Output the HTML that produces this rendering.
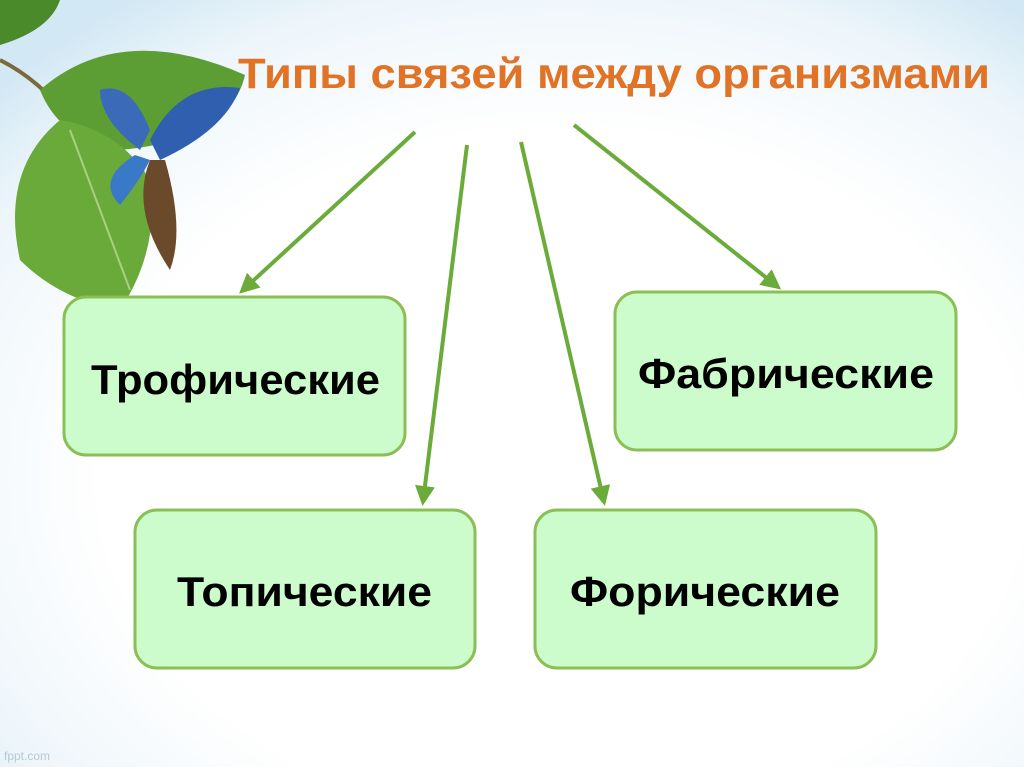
<!DOCTYPE html>
<html><head><meta charset="utf-8"><style>
body{margin:0;width:1024px;height:767px;overflow:hidden;background:#fff}
</style></head><body>
<svg width="1024" height="767" viewBox="0 0 1024 767" xmlns="http://www.w3.org/2000/svg">
<defs>
<radialGradient id="bg" cx="0.55" cy="0.62" r="0.75">
<stop offset="0.6" stop-color="#ffffff"/><stop offset="0.85" stop-color="#eef6fb"/><stop offset="1" stop-color="#d2e8f4"/>
</radialGradient>
<marker id="ah" markerWidth="6" markerHeight="6" refX="4" refY="3" orient="auto" markerUnits="strokeWidth">
<path d="M0,0.5 L5,3 L0,5.5 Z" fill="#6aab3a"/></marker>
</defs>
<rect width="1024" height="767" fill="url(#bg)"/>
<path d="M0,60 Q40,80 70,120" stroke="#7a6a3a" stroke-width="4" fill="none"/>
<path d="M0,0 L60,0 Q50,30 0,45 Z" fill="#4a8a2a"/>
<path d="M40,90 Q120,20 245,75 Q230,140 120,150 Q60,140 40,90 Z" fill="#5c9e33"/>
<path d="M60,120 Q0,170 20,260 Q60,300 120,310 Q160,250 150,180 Q120,130 60,120 Z" fill="#6aaa3a"/>
<path d="M70,130 L130,290" stroke="#a8d080" stroke-width="2"/>
<path d="M140,150 Q100,120 100,90 Q130,80 150,130 Z" fill="#3a6ab8"/>
<path d="M150,140 Q180,80 240,88 Q225,130 160,160 Z" fill="#2f5fae"/>
<path d="M150,160 Q130,210 170,270 Q185,230 165,160 Z" fill="#6a4a2a"/>
<path d="M135,155 Q95,180 120,205 Q140,180 150,160 Z" fill="#3a78c8"/>
<text x="4" y="760" font-family="Liberation Sans,sans-serif" font-size="12" fill="#b8c8d0">fppt.com</text>
<text x="238" y="88" font-family="Liberation Sans,sans-serif" font-weight="bold" font-size="43" fill="#e07326" textLength="752" lengthAdjust="spacingAndGlyphs">Типы связей между организмами</text>
<g stroke="#6aab3a" stroke-width="4" fill="none" marker-end="url(#ah)">
<line x1="415" y1="132" x2="242" y2="291"/>
<line x1="467" y1="145" x2="423" y2="502"/>
<line x1="521" y1="142" x2="604" y2="502"/>
<line x1="574" y1="125" x2="778" y2="287"/>
</g>
<g fill="#ccfccb" stroke="#8bbf55" stroke-width="3">
<rect x="64" y="297" width="341" height="158" rx="22"/>
<rect x="615" y="292" width="341" height="158" rx="22"/>
<rect x="135" y="510" width="340" height="158" rx="22"/>
<rect x="535" y="510" width="341" height="158" rx="22"/>
</g>
<g font-family="Liberation Sans,sans-serif" font-weight="bold" font-size="42" fill="#000">
<text x="91" y="394" textLength="289" lengthAdjust="spacingAndGlyphs">Трофические</text>
<text x="638" y="388" textLength="296" lengthAdjust="spacingAndGlyphs">Фабрические</text>
<text x="177" y="606" textLength="255" lengthAdjust="spacingAndGlyphs">Топические</text>
<text x="570" y="606" textLength="270" lengthAdjust="spacingAndGlyphs">Форические</text>
</g>
</svg>
</body></html>
